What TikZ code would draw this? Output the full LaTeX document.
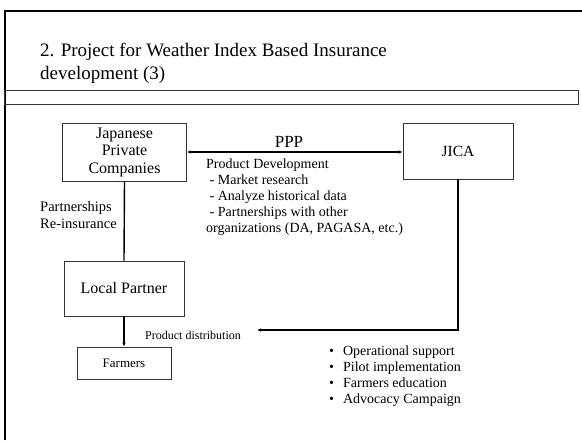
\documentclass[tikz,border=0pt]{standalone}
\usepackage{fontspec}
\setmainfont{Liberation Serif}
\usetikzlibrary{positioning,arrows.meta}

\tikzset{
  box/.style={draw=black!80, line width=0.8pt, fill=white, align=center, inner sep=1pt},
  link/.style={line width=1.4pt},
  tip/.style={-{Latex[length=4pt,width=3.5pt]}}
}

\begin{document}
\begin{tikzpicture}[x=1pt,y=-1pt]
  \useasboundingbox (0,0) rectangle (582,440);

  % slide frame and title
  \draw[line width=2.8pt] (5,440) -- (5,11) -- (582,11);
  \node[anchor=west, align=left, inner sep=0pt, font=\fontsize{19}{23}\selectfont] (title) at (40,63)
    {2. Project for Weather Index Based Insurance\\development (3)};
  \draw[draw=black!80, line width=0.9pt] (4,90) rectangle (578,104);

  % boxes
  \node[box, minimum width=124pt, minimum height=58pt, font=\fontsize{16}{17.5}\selectfont] (jpc) at (124.5,152)
    {Japanese\\Private\\Companies};
  \node[box, minimum width=110pt, minimum height=56pt, font=\fontsize{15.5}{17}\selectfont] (jica) at (458,151) {JICA};
  \node[box, minimum width=120pt, minimum height=55pt, font=\fontsize{16}{17}\selectfont] (local) at (124,288.5) {Local Partner};
  \node[box, minimum width=94pt, minimum height=32pt, font=\fontsize{13}{14}\selectfont] (farmers) at (124,363) {Farmers};

  % labels
  \node[font=\fontsize{17}{18}\selectfont] (ppp) at (289,142) {PPP};
  \node[anchor=north west, align=left, inner sep=0pt, font=\fontsize{14}{15.8}\selectfont] (dev) at (206,159)
    {Product Development\\
     \ - Market research\\
     \ - Analyze historical data\\
     \ - Partnerships with other\\
     organizations (DA, PAGASA, etc.)};
  \node[anchor=west, align=left, inner sep=0pt, font=\fontsize{14.5}{17}\selectfont] (partner) at (40,215.5)
    {Partnerships\\Re-insurance};
  \node[anchor=west, inner sep=0pt, font=\fontsize{12}{13}\selectfont] (distlbl) at (145,335) {Product distribution};
  \node[anchor=north west, align=left, inner sep=0pt, font=\fontsize{14}{15.7}\selectfont] (support) at (329,346)
    {\textbullet\hspace{9pt}Operational support\\
     \textbullet\hspace{9pt}Pilot implementation\\
     \textbullet\hspace{9pt}Farmers education\\
     \textbullet\hspace{9pt}Advocacy Campaign};

  % connectors
  \coordinate (distend) at (257,330);
  \draw[link, {Latex[length=4pt,width=3.5pt]}-{Latex[length=4pt,width=3.5pt]}] (jpc.east |- 0,152) -- (jica.west |- 0,152);
  \draw[link] (jpc.south) -- (local.north);
  \draw[link, tip] (local.south) -- (farmers.north);
  \draw[link, tip] (jica.south) |- (distend);
\end{tikzpicture}
\end{document}
